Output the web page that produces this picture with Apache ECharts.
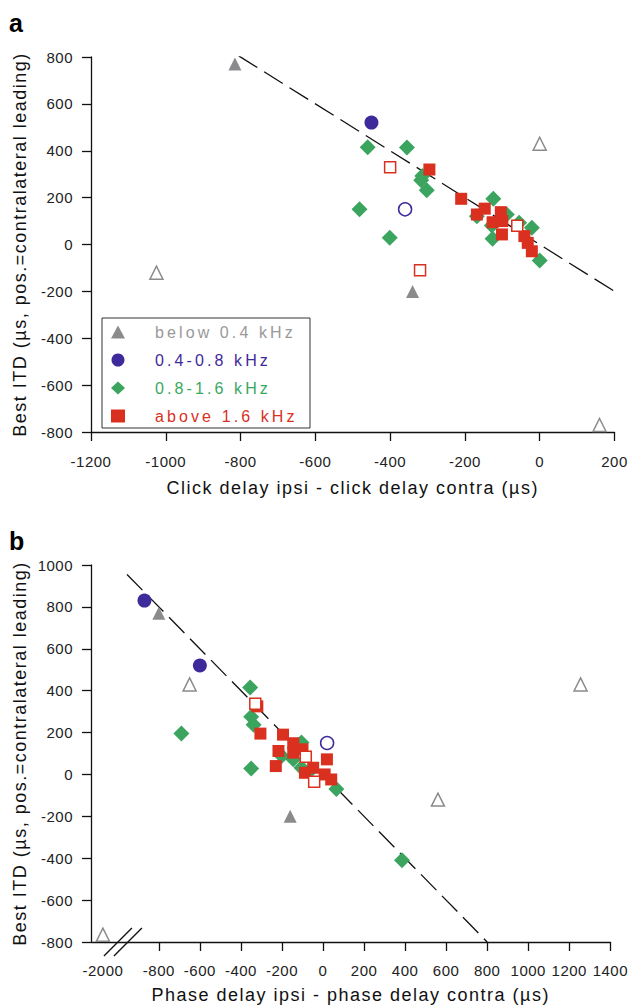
<!DOCTYPE html>
<html><head><meta charset="utf-8">
<script src="https://cdn.jsdelivr.net/npm/echarts@6/dist/echarts.min.js"></script>
<style>html,body{margin:0;padding:0;background:#fff}#c{width:630px;height:1005px}</style>
</head><body><div id="c"></div>
<script>
// ---------- Panel a: click delays ----------
const aBelowFilled = [[-815, 770], [-340, -200]];
const aBelowOpen = [[-1025, -120], [0, 430], [160, -770]];
const aMidFilled = [[-450, 520]];
const aMidOpen = [[-360, 150]];
const aGreen = [[-460, 415], [-355, 414], [-314, 292], [-317, 274], [-302, 232], [-482, 150], [-401, 29],
  [-124, 195], [-168, 121], [-88, 128], [-126, 25], [-21, 71], [0, -68], [-55, 93], [-128, 81]];
const aRedFilled = [[-295, 320], [-210, 195], [-168, 128], [-147, 153], [-104, 138], [-100, 100], [-126, 95],
  [-101, 43], [-41, 36], [-32, 7], [-21, -29]];
const aRedOpen = [[-400, 330], [-320, -110], [-60, 80]];
const aLine = [[-805, 805], [200, -200]];

// ---------- Panel b: phase delays ----------
const bBelowFilled = [[-800, 770], [-160, -200]];
const bBelowOpen = [[-650, 430], [1255, 430], [560, -120], [-2000, -765]];
const bMidFilled = [[-870, 830], [-600, 520]];
const bMidOpen = [[20, 150]];
const bGreen = [[-690, 195], [-355, 415], [-350, 28], [-350, 275], [-338, 237], [-105, 152], [-145, 72],
  [-105, 32], [65, -70], [385, -410], [-201, 88], [-60, 20]];
const bRedFilled = [[-320, 325], [-305, 195], [-195, 190], [-145, 149], [-145, 104], [-217, 112], [-230, 40],
  [-88, 8], [-48, 32], [19, 72], [8, 0], [40, -24], [-100, 120]];
const bRedOpen = [[-330, 337], [-84, 85], [-43, -35]];
const bLine = [[-955, 955], [800, -800]];

// ---------- axes / labels ----------
const bXTickLabels = [-2000, -800, -600, -400, -200, 0, 200, 400, 600, 800, 1000, 1200, 1400];
const bXTicks = [-800, -600, -400, -200, 0, 200, 400, 600, 800, 1000, 1200, 1400];
const legendNames = ['below 0.4 kHz', '0.4-0.8 kHz', '0.8-1.6 kHz', 'above 1.6 kHz'];
const xTitleA = 'Click delay ipsi - click delay contra (µs)';
const xTitleB = 'Phase delay ipsi - phase delay contra (µs)';
const yTitle = 'Best ITD (µs, pos.=contralateral leading)';

const FONT = 'Liberation Sans';
const C_GRAY = '#8b8b8d', C_PURPLE = '#3f2a9b', C_GREEN = '#3ba45f', C_RED = '#d9301f';
const legendText = ['#999999', C_PURPLE, '#3aa860', C_RED];

const chart = echarts.init(document.getElementById('c'), null, {renderer: 'svg'});

function axisCommon() {
  return {
    axisLine: {show: true, onZero: false, lineStyle: {color: '#111', width: 1.3}},
    axisTick: {show: true, inside: false, length: 9, lineStyle: {color: '#111', width: 1.3}},
    axisLabel: {color: '#222', fontSize: 15, fontFamily: FONT, formatter: v => String(v)},
    splitLine: {show: false},
    nameTextStyle: {color: '#111', fontSize: 18, fontFamily: FONT}
  };
}

function scat(name, data, sym, size, color, xi, open) {
  return {
    type: 'scatter', name: name, data: data, xAxisIndex: xi, yAxisIndex: xi,
    symbol: sym, symbolSize: size,
    itemStyle: open ? {color: '#fff', borderColor: color, borderWidth: 1.5, opacity: 1} : {color: color, opacity: 1},
    silent: true
  };
}
function dline(data, xi) {
  return {
    type: 'line', data: data, xAxisIndex: xi, yAxisIndex: xi, symbol: 'none', silent: true,
    lineStyle: {color: '#111', width: 1.3, type: [22, 8]}, z: 1
  };
}

const labelsG = [
  {type: 'text', left: 9, top: 10, style: {text: 'a', font: 'bold 25px ' + FONT, fill: '#000'}},
  {type: 'text', left: 9, top: 528, style: {text: 'b', font: 'bold 25px ' + FONT, fill: '#000'}}
];

const option = {
  animation: false,
  backgroundColor: '#fff',
  textStyle: {fontFamily: FONT},
  grid: [
    {left: 91, right: 14, top: 57, bottom: 573},
    {left: 91, right: 14, top: 565, bottom: 63}
  ],
  xAxis: [
    Object.assign(axisCommon(), {
      type: 'value', gridIndex: 0, min: -1200, max: 200, interval: 200,
      name: xTitleA, nameLocation: 'middle', nameGap: 47
    }),
    Object.assign(axisCommon(), {
      type: 'value', gridIndex: 1, min: -2058, max: 1400,
      breaks: [{start: -1990, end: -1060, gap: '0.1%'}],
      breakArea: {show: false, expandOnClick: false},
      name: xTitleB, nameLocation: 'middle', nameGap: 44
    })
  ],
  yAxis: [
    Object.assign(axisCommon(), {
      type: 'value', gridIndex: 0, min: -800, max: 800, interval: 200,
      name: yTitle, nameLocation: 'middle', nameGap: 62
    }),
    Object.assign(axisCommon(), {
      type: 'value', gridIndex: 1, min: -800, max: 1000, interval: 200,
      name: yTitle, nameLocation: 'middle', nameGap: 62
    })
  ],
  legend: {
    orient: 'vertical', left: 102, top: 318,
    data: legendNames.map((n, i) => ({name: n, textStyle: {color: legendText[i]}})),
    itemWidth: 14, itemHeight: 13, itemGap: 12,
    padding: [6, 12, 4, 9],
    borderColor: '#333', borderWidth: 1, backgroundColor: '#fff',
    textStyle: {fontSize: 16, fontFamily: FONT, padding: [0, 0, 0, 25], width: 143, height: 14, lineHeight: 14},
    selectedMode: false
  },
  series: [
    dline(aLine, 0),
    scat(legendNames[0], aBelowFilled, 'triangle', 13, C_GRAY, 0, false),
    scat(legendNames[1], aMidFilled, 'circle', 14, C_PURPLE, 0, false),
    scat(legendNames[2], aGreen, 'diamond', 16, C_GREEN, 0, false),
    scat(legendNames[3], aRedFilled, 'rect', 12, C_RED, 0, false),
    scat('below open a', aBelowOpen, 'triangle', 13, C_GRAY, 0, true),
    scat('mid open a', aMidOpen, 'circle', 13, C_PURPLE, 0, true),
    scat('red open a', aRedOpen, 'rect', 11, C_RED, 0, true),

    dline(bLine, 1),
    scat(legendNames[0], bBelowFilled, 'triangle', 13, C_GRAY, 1, false),
    scat(legendNames[1], bMidFilled, 'circle', 14, C_PURPLE, 1, false),
    scat(legendNames[2], bGreen, 'diamond', 16, C_GREEN, 1, false),
    scat(legendNames[3], bRedFilled, 'rect', 12, C_RED, 1, false),
    scat('below open b', bBelowOpen, 'triangle', 13, C_GRAY, 1, true),
    scat('mid open b', bMidOpen, 'circle', 13, C_PURPLE, 1, true),
    scat('red open b', bRedOpen, 'rect', 11, C_RED, 1, true)
  ],
  graphic: labelsG
};
option.xAxis[0].axisLabel.margin = 22;
option.xAxis[1].axisLabel.margin = 21;
option.xAxis[1].axisLabel.customValues = bXTickLabels;
option.xAxis[1].axisTick.customValues = bXTicks;
option.yAxis[0].axisLabel.margin = 18;
option.yAxis[1].axisLabel.margin = 18;

chart.setOption(option);

// double-slash break marks on panel b x-axis, placed through the axis scale
const pc = chart.convertToPixel({xAxisIndex: 1, yAxisIndex: 1}, [-975, -800]);
const cx = pc[0], cy = pc[1];
chart.setOption({
  graphic: labelsG.concat([
    {type: 'line', shape: {x1: cx - 19, y1: cy + 14, x2: cx + 9, y2: cy - 14}, style: {stroke: '#111', lineWidth: 1.3}},
    {type: 'line', shape: {x1: cx - 9, y1: cy + 14, x2: cx + 19, y2: cy - 14}, style: {stroke: '#111', lineWidth: 1.3}}
  ])
}, {replaceMerge: ['graphic']});

function applySpacing() {
  document.querySelectorAll('#c text').forEach(t => {
    const s = t.textContent;
    let ls = 0.5;
    if (legendNames.indexOf(s) >= 0) ls = 3.1;
    else if (s === xTitleA || s === xTitleB || s === yTitle) ls = 1.5;
    else if (s === 'a' || s === 'b') ls = 0;
    t.setAttribute('letter-spacing', ls);
  });
}
chart.on('finished', applySpacing);
applySpacing();
</script></body></html>
